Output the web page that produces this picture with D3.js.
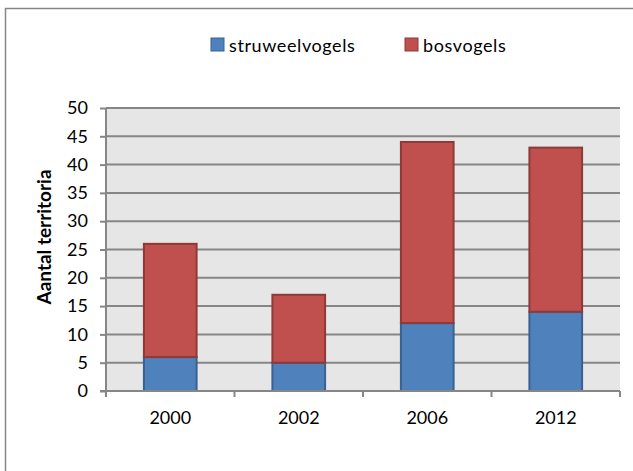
<!DOCTYPE html>
<html>
<head>
<meta charset="utf-8">
<script src="https://cdn.jsdelivr.net/npm/d3@7"></script>
<style>
  body { margin: 0; background: #fff; overflow: hidden; }
  text { font-family: Lato, "Open Sans", sans-serif; fill: #000; }
</style>
</head>
<body>
<svg id="chart" width="633" height="471"></svg>
<script>
var years = ["2000", "2002", "2006", "2012"];
var struweelvogels = [6, 5, 12, 14];
var bosvogels = [20, 12, 32, 29];
var seriesNames = ["struweelvogels", "bosvogels"];
var yTicks = [0, 5, 10, 15, 20, 25, 30, 35, 40, 45, 50];

var svg = d3.select("#chart");
var margin = { left: 106, right: 13, top: 108, bottom: 80 };
var width = 633 - margin.left - margin.right;
var height = 471 - margin.top - margin.bottom;

var fill = { struweelvogels: "#4f81bd", bosvogels: "#c0504d" };
var edge = { struweelvogels: "#3a6190", bosvogels: "#8e3a38" };

// chart border, runs off the right/bottom of the picture
svg.append("rect")
    .attr("x", 5.5).attr("y", 8.5)
    .attr("width", 700).attr("height", 600)
    .attr("fill", "none")
    .attr("stroke", "#868686")
    .attr("stroke-width", 1.5);

var table = years.map(function(y, i) {
  return { year: y, struweelvogels: struweelvogels[i], bosvogels: bosvogels[i] };
});
var stacked = d3.stack().keys(seriesNames)(table);

var x = d3.scaleBand().domain(years).range([0, width]);
var y = d3.scaleLinear().domain([0, 50]).range([height, 0]);
var barW = x.bandwidth() * 0.41;

var g = svg.append("g").attr("transform", "translate(" + margin.left + "," + margin.top + ")");

g.append("rect")
    .attr("width", width).attr("height", height)
    .attr("fill", "#e6e6e6");

g.selectAll(".grid")
  .data(yTicks.slice(1))
  .enter().append("line")
    .attr("x1", 0).attr("x2", width)
    .attr("y1", function(d) { return y(d); })
    .attr("y2", function(d) { return y(d); })
    .attr("stroke", "#868686")
    .attr("stroke-width", 2);

g.selectAll(".serie")
  .data(stacked)
  .enter().append("g")
  .each(function(s) {
    d3.select(this).selectAll("rect")
      .data(s)
      .enter().append("rect")
        .attr("x", function(d) { return x(d.data.year) + (x.bandwidth() - barW) / 2; })
        .attr("y", function(d) { return y(d[1]); })
        .attr("width", barW)
        .attr("height", function(d) { return y(d[0]) - y(d[1]); })
        .attr("fill", fill[s.key])
        .attr("stroke", edge[s.key])
        .attr("stroke-width", 2);
  });

var yAxis = g.append("g")
    .call(d3.axisLeft(y).tickValues(yTicks).tickSize(6).tickPadding(12));
var xAxis = g.append("g")
    .attr("transform", "translate(0," + height + ")")
    .call(d3.axisBottom(x).tickSize(0).tickPadding(20));

// category boundary ticks like Excel
g.selectAll(".xtick")
  .data(years.concat(["end"]))
  .enter().append("line")
    .attr("x1", function(d, i) { return i * x.step(); })
    .attr("x2", function(d, i) { return i * x.step(); })
    .attr("y1", height).attr("y2", height + 6)
    .attr("stroke", "#868686").attr("stroke-width", 2);

[yAxis, xAxis].forEach(function(a) {
  a.selectAll("line").attr("stroke", "#868686").attr("stroke-width", 2);
  a.selectAll("text").style("font-size", "18px").style("font-family", "Lato, sans-serif").attr("fill", "#000");
});
yAxis.select(".domain").remove();
xAxis.select(".domain").remove();
g.append("line").attr("x1", 0).attr("x2", 0).attr("y1", 0).attr("y2", height + 6)
    .attr("stroke", "#868686").attr("stroke-width", 2);
g.append("line").attr("x1", -6).attr("x2", width).attr("y1", height).attr("y2", height)
    .attr("stroke", "#868686").attr("stroke-width", 2);

svg.append("text")
    .attr("transform", "translate(51,237) rotate(-90)")
    .attr("text-anchor", "middle")
    .style("font-size", "19px")
    .style("font-weight", "bold")
    .text("Aantal territoria");

// legend
var legendX = [211, 405];
var legend = svg.selectAll(".legend")
  .data(seriesNames)
  .enter().append("g")
    .attr("transform", function(d, i) { return "translate(" + legendX[i] + ",38)"; });
legend.append("rect")
    .attr("width", 13).attr("height", 13)
    .attr("fill", function(d) { return fill[d]; })
    .attr("stroke", function(d) { return edge[d]; })
    .attr("stroke-width", 1);
legend.append("text")
    .attr("x", 18).attr("y", 14)
    .style("font-size", "18px")
    .style("letter-spacing", "0.6px")
    .text(function(d) { return d; });
</script>
</body>
</html>
